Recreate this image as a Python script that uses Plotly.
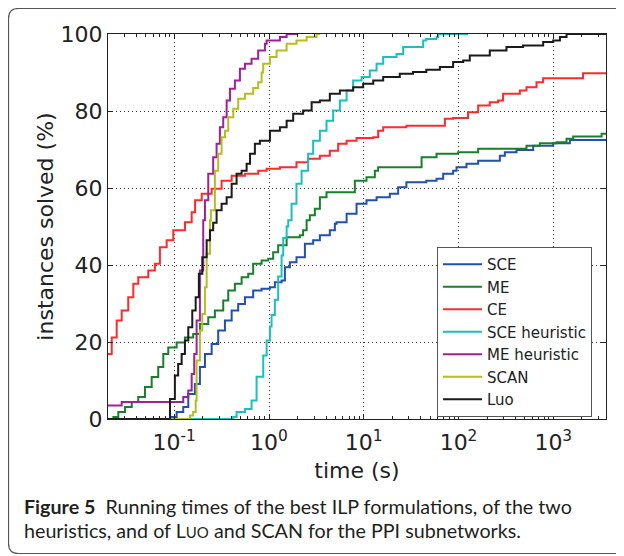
import plotly.graph_objects as go

# ---------------- data (time in seconds, instances solved in %) ----------------
sce_t = [0.02, 0.094, 0.106, 0.1245, 0.1406, 0.1652, 0.1866, 0.2109, 0.2483, 0.2911, 0.3428,
         0.4036, 0.4732, 0.5572, 0.6808, 0.8356, 1.023, 1.153, 1.358, 1.472, 1.66, 1.95, 2.393,
         2.924, 3.443, 4.385, 4.955, 5.164, 6.592, 8.395, 10.69, 13.65, 18.84, 23.07, 28.18,
         45.71, 58.61, 68.87, 87.7, 95.28, 121.3, 161.1, 272.9, 308.3, 409.3, 613.8, 997.7,
         1496, 3600]
sce_y = [0, 0.5, 1.8, 3.1, 6.5, 9.1, 13.5, 16.9, 19.5, 23, 25.6, 28.2, 29.9, 31.6, 33.4, 33.8,
         34.2, 35.5, 36, 39.4, 40.7, 42, 45.5, 46.4, 47.7, 49, 50.7, 51.1, 53.3, 55.9, 56.8,
         57.6, 58.5, 60.2, 61.5, 61.9, 62.4, 63.7, 64.5, 65.4, 66.3, 67.1, 68.4, 69.3, 69.9,
         71, 71.6, 72.5, 72.5]

me_t = [0.02, 0.0228, 0.0257, 0.0302, 0.0356, 0.0417, 0.0491, 0.0578, 0.0678, 0.0766, 0.0865,
        0.106, 0.1297, 0.1585, 0.1866, 0.2286, 0.2685, 0.3289, 0.3715, 0.4365, 0.514, 0.604,
        0.6808, 0.8356, 0.9817, 1.107, 1.25, 1.535, 2.118, 2.291, 2.495, 2.698, 3.048, 3.443,
        4.046, 8.054, 10.69, 13.09, 14.19, 40.74, 58.61, 99.1, 161.1, 521.2, 721.1, 1081,
        1380, 1622, 3236, 3600]
me_y = [0, 0.5, 1.8, 3.1, 4.4, 5.7, 8.3, 10.9, 13.5, 16.9, 18.6, 19.9, 21.2, 22.1, 24.7, 26.4,
        28.2, 30.8, 33.4, 35.1, 36.8, 37.7, 40.3, 41.2, 41.6, 43.3, 45.1, 47.2, 47.7, 49,
        51.6, 52.9, 54.6, 57.6, 58.9, 61.9, 62.8, 64.5, 65.4, 68, 68.9, 69.3, 70.2, 71,
        71.6, 71.9, 72.8, 73.4, 74.1, 74.1]

ce_t = [0.02, 0.0219, 0.0247, 0.0279, 0.0327, 0.037, 0.0417, 0.0532, 0.0625, 0.0706, 0.0832,
        0.0977, 0.1297, 0.1528, 0.166, 0.195, 0.2483, 0.3162, 0.4036, 0.5572, 0.7691, 0.944,
        1.303, 1.95, 2.588, 3.443, 4.385, 5.37, 6.592, 8.395, 12.59, 14.19, 16.03, 28.18,
        71.78, 87.7, 125.9, 161.1, 213.8, 261.8, 295.1, 443.6, 521.2, 665.3, 781.6, 2061, 3600]
ce_y = [16.9, 21.2, 25.6, 28.2, 31.6, 35.1, 36.8, 38.6, 40.3, 44.6, 46.4, 49, 51.1, 53.7, 56.8,
        58.5, 59.8, 61.9, 63.2, 63.7, 64.5, 65, 65.4, 66.7, 67.6, 68.4, 69.7, 71.5, 72.3, 73,
        73.2, 74.9, 75.8, 76.2, 78, 78.2, 79.7, 81.4, 82.3, 82.7, 84.5, 85.3, 86.2, 87.5,
        88.5, 89.8, 89.8]

sceh_t = [0.02, 0.4188, 0.455, 0.5572, 0.6546, 0.7396, 0.869, 0.944, 1.023, 1.064, 1.153, 1.25,
          1.358, 1.413, 1.535, 1.596, 1.73, 1.95, 2.208, 2.588, 2.924, 3.443, 4.046, 4.753,
          5.598, 6.592, 7.727, 9.484, 11.59, 13.65, 16.03, 22.18, 26.06, 42.36, 45.71, 58.61,
          60.95, 125.9]
sceh_y = [0, 0.5, 1.8, 2.6, 4.8, 11, 16.5, 20.4, 24, 27, 31, 37, 42.5, 47, 50, 51.6, 55.9,
          61.1, 64.5, 68.9, 72.3, 74.9, 77.5, 80.1, 82.7, 85.3, 87.9, 88.8, 90.5, 92.3, 94,
          94.8, 96.6, 98.3, 98.7, 99.2, 100, 100]

meh_t = [0.02, 0.0279, 0.1245, 0.1406, 0.1528, 0.1626, 0.1722, 0.1866, 0.2023, 0.2109, 0.2286,
         0.2576, 0.2799, 0.3034, 0.3289, 0.3573, 0.3873, 0.4365, 0.4932, 0.5572, 0.6546,
         0.7691, 0.906, 0.944, 1.303, 1.535, 2.0]
meh_y = [3.5, 4.4, 5.7, 7.4, 11.7, 16.9, 25.6, 38.6, 51.6, 56.8, 63.7, 68, 71.5, 75.8, 78.4,
         82.7, 85.8, 87.9, 91, 92.3, 93.6, 95.7, 97.5, 98.3, 99.2, 100, 100]

scan_t = [0.02, 0.1466, 0.1585, 0.1683, 0.1722, 0.1866, 0.1977, 0.2109, 0.2198, 0.2382, 0.2438,
          0.2685, 0.2911, 0.3162, 0.3428, 0.3715, 0.42, 0.4732, 0.5572, 0.6808, 0.7691, 0.8356,
          0.869, 1.023, 1.202, 1.535, 1.95, 2.495, 3.177, 3.443]
scan_y = [0, 0.9, 1.8, 4.8, 15.2, 23, 27.3, 34.2, 42.9, 51.6, 54.2, 64.5, 68.9, 73.2, 74.9,
          78.4, 80.6, 83.2, 84.5, 86, 87.5, 90, 92.3, 94, 95.7, 97.5, 98.3, 99.2, 100, 100]

luo_t = [0.02, 0.0902, 0.1016, 0.110, 0.1197, 0.1297, 0.1406, 0.155, 0.1683, 0.182, 0.1977,
         0.2198, 0.2382, 0.2576, 0.2799, 0.3162, 0.3573, 0.4036, 0.455, 0.514, 0.5808, 0.631,
         0.7096, 0.8017, 1.023, 1.303, 1.535, 1.8, 2.291, 2.818, 3.443, 4.385, 5.598, 7.727,
         9.863, 12.59, 16.03, 23.99, 33.11, 45.71, 63.53, 87.7, 111.9, 131.5, 213.8, 320.6,
         479.7, 781.6, 997.7, 1175, 1380, 3600]
luo_y = [0, 5.2, 11.3, 14.3, 16.9, 20.4, 23.8, 28.2, 31.6, 37.7, 42, 46.4, 49, 51, 54.2, 55.9,
         57.6, 61.1, 63.7, 64.5, 66.3, 68.9, 71.5, 72.3, 74.9, 75.8, 77.5, 79.3, 80.1, 82.3,
         82.7, 84.5, 85.3, 86.2, 87.1, 87.9, 88.8, 89.7, 90.1, 90.7, 91.4, 92.7, 93.1, 94.4,
         95.7, 96.6, 97, 97.9, 98.3, 99.2, 100, 100]

names = ["SCE", "ME", "CE", "SCE heuristic", "ME heuristic", "SCAN", "Luo"]
times = [sce_t, me_t, ce_t, sceh_t, meh_t, scan_t, luo_t]
values = [sce_y, me_y, ce_y, sceh_y, meh_y, scan_y, luo_y]
colors = ["#2150ae", "#1a7f2c", "#ff2a2a", "#1bbfbf", "#a0209c", "#b5bd22", "#1a1a1a"]

x_tickvals = [0.1, 1, 10, 100, 1000]
x_ticktext = ["10<sup>-1</sup>", "10<sup>0</sup>", "10<sup>1</sup>", "10<sup>2</sup>", "10<sup>3</sup>"]
x_minor = [m * 10 ** k for k in range(-2, 4) for m in range(2, 10) if 0.02 <= m * 10 ** k <= 3600]
y_tickvals = [0, 20, 40, 60, 80, 100]

# ---------------- layout geometry (page pixels; page body has an 8px margin) ----------------
OFF = 8
W, H = 624 - OFF, 556 - OFF
PL, PR, PT, PB = 108, 606, 34, 419          # plot area in page pixels
L, R, T, B = PL - OFF, 624 - PR, PT - OFF, 556 - PB
PW, PH = PR - PL, PB - PT


def px(x):
    return (x - PL) / PW


def py(y):
    return (PB - y) / PH


fig = go.Figure()
for n, t, v, c in zip(names, times, values, colors):
    fig.add_trace(go.Scatter(x=t, y=v, name=n, mode="lines", line=dict(color=c, width=2, shape="hv"),
                             legendgroup=n))

axis_font = dict(family="DejaVu Sans", size=22, color="#222")
fig.update_xaxes(type="log", range=[-1.69897, 3.5563], showline=True, linecolor="#222", linewidth=1,
                 mirror="ticks", ticks="inside", ticklen=5, tickcolor="#222",
                 tickvals=x_tickvals, ticktext=x_ticktext, tickfont=axis_font, ticklabelstandoff=4,
                 showgrid=True, gridcolor="#333", griddash="1px,3px", gridwidth=1,
                 minor=dict(tickvals=x_minor, ticks="inside", ticklen=3, tickcolor="#222", showgrid=False),
                 title=dict(text="time (s)", font=axis_font, standoff=8), zeroline=False)
fig.update_yaxes(range=[0, 100], showline=True, linecolor="#222", linewidth=1, mirror="ticks",
                 ticks="inside", ticklen=5, tickcolor="#222", tickvals=y_tickvals, tickfont=axis_font,
                 showgrid=True, gridcolor="#333", griddash="1px,3px", gridwidth=1,
                 title=dict(text="instances solved (%)", font=axis_font, standoff=0), zeroline=False)

# rounded figure frame
x0, y0, x1, y1, r = px(8.5), py(8.5), px(670), py(553.5), 10
rx, ry = r / PW, r / PH
path = (f"M {x0 + rx},{y0} L {x1},{y0} L {x1},{y1} L {x0 + rx},{y1} "
        f"Q {x0},{y1} {x0},{y1 + ry} L {x0},{y0 - ry} Q {x0},{y0} {x0 + rx},{y0} Z")
fig.add_shape(type="path", path=path, xref="paper", yref="paper",
              line=dict(color="#555", width=1.2), fillcolor="rgba(0,0,0,0)", layer="below")

cap_font = dict(family="Lato", size=19.7, color="#231f20")
fig.add_annotation(x=px(22), y=py(506), xref="paper", yref="paper", xanchor="left", yanchor="middle",
                   showarrow=False, font=cap_font,
                   text="<b>Figure 5</b>  Running times of the best ILP formulations, of the two")
fig.add_annotation(x=px(22), y=py(530), xref="paper", yref="paper", xanchor="left", yanchor="middle",
                   showarrow=False, font=cap_font,
                   text="heuristics, and of L<span style='font-size:15px'>UO</span> and SCAN for the PPI subnetworks.")

fig.update_layout(
    width=W, height=H, margin=dict(l=L, r=R, t=T, b=B),
    paper_bgcolor="white", plot_bgcolor="white",
    legend=dict(x=px(437), y=py(247), xanchor="left", yanchor="top", bgcolor="white",
                bordercolor="#555", borderwidth=1, font=dict(family="DejaVu Sans", size=15, color="#222"),
                traceorder="grouped", tracegroupgap=0, itemwidth=39),
    showlegend=True,
)

fig.write_html("out.html")
